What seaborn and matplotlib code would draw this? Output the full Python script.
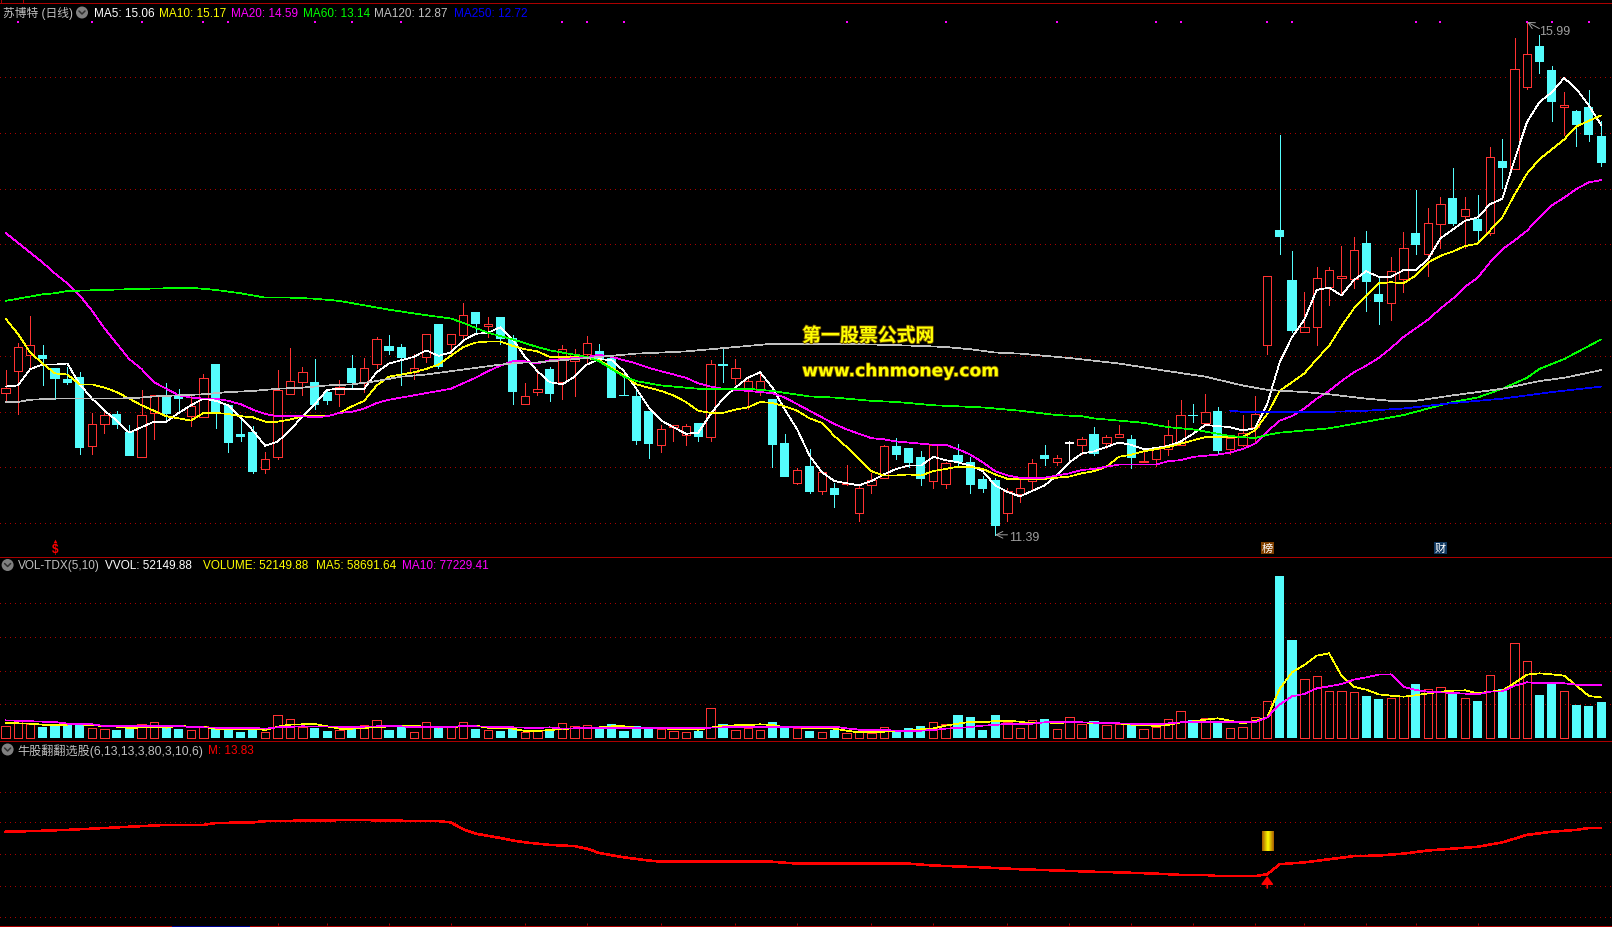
import numpy as np
import pandas as pd
import matplotlib
matplotlib.use('Agg')
import matplotlib.pyplot as plt
import matplotlib.patheffects as pe
from matplotlib.colors import LinearSegmentedColormap
from matplotlib.patches import Circle
import seaborn as sns

# ------------- DATA -------------
open_p = [12.61,12.81,12.96,12.96,12.84,12.74,12.76,12.13,12.33,12.42,
          12.26,12.03,12.43,12.58,12.58,12.40,12.39,12.88,12.50,12.24,
          12.26,11.92,12.03,12.60,12.71,12.71,12.62,12.60,12.84,12.70,
          12.88,13.04,13.03,12.80,12.94,13.24,13.06,13.14,13.35,13.22,
          13.30,13.11,12.51,12.62,12.83,12.71,12.90,12.97,12.99,12.93,
          12.59,12.58,12.45,12.14,12.30,12.23,12.34,12.21,12.87,12.75,
          12.64,12.64,12.56,12.16,11.79,11.95,11.72,11.75,11.78,11.52,
          11.77,11.84,12.13,12.11,12.03,11.81,11.78,12.05,11.98,11.83,
          11.82,11.52,11.69,11.81,12.05,11.98,12.15,12.14,12.24,12.16,
          12.21,12.19,11.98,12.01,12.10,12.14,12.41,12.34,12.45,12.10,
          12.14,12.30,13.05,14.10,13.64,13.17,13.21,13.58,13.66,13.65,
          13.98,13.51,13.43,13.65,14.07,13.88,14.15,14.39,14.22,14.20,
          14.07,14.72,14.65,15.40,15.77,15.55,15.22,15.18,15.22,14.95]
close_p = [12.66,13.03,13.05,12.92,12.74,12.70,12.11,12.33,12.41,12.32,
           12.04,12.41,12.59,12.42,12.56,12.49,12.75,12.43,12.16,12.21,
           11.89,12.01,12.64,12.72,12.80,12.50,12.54,12.67,12.70,12.84,
           13.10,12.99,12.93,12.84,13.15,12.85,13.15,13.32,13.24,13.24,
           13.10,12.62,12.58,12.65,12.60,13.01,12.97,13.07,12.91,12.57,
           12.58,12.17,12.15,12.28,12.32,12.31,12.21,12.88,12.86,12.84,
           12.72,12.72,12.14,11.85,11.91,11.71,11.89,11.68,11.79,11.75,
           11.82,12.13,12.05,11.97,11.83,12.14,11.97,11.98,11.77,11.74,
           11.40,11.72,11.75,11.97,12.01,12.02,12.15,12.19,12.06,12.21,
           12.24,12.02,11.99,12.10,12.23,12.41,12.40,12.44,12.08,12.20,
           12.25,12.42,13.68,14.03,13.18,13.21,13.66,13.73,13.68,13.91,
           13.62,13.44,13.72,13.93,13.96,14.16,14.33,14.15,14.29,14.09,
           14.76,14.66,15.56,15.70,15.63,15.26,15.23,15.05,14.96,14.71]
high_p = [12.82,13.07,13.31,13.05,12.84,12.85,12.80,12.43,12.47,12.45,
          12.32,12.64,12.59,12.70,12.65,12.59,12.78,12.88,12.51,12.40,
          12.31,12.07,12.82,13.02,12.85,12.92,12.64,12.73,12.96,12.93,
          13.12,13.14,13.06,12.97,13.15,13.24,13.15,13.43,13.35,13.30,
          13.30,13.14,12.70,12.83,12.85,13.05,13.01,13.13,13.06,12.93,
          12.78,12.66,12.45,12.32,12.32,12.33,12.34,12.91,13.02,12.92,
          12.76,12.80,12.56,12.24,11.93,12.10,11.89,11.79,11.96,11.78,
          11.88,12.14,12.20,12.11,12.08,12.15,11.98,12.15,12.03,11.86,
          11.84,11.75,11.82,12.01,12.14,12.05,12.17,12.21,12.30,12.23,
          12.32,12.23,12.08,12.11,12.37,12.55,12.51,12.60,12.48,12.20,
          12.41,12.58,13.68,14.96,13.90,13.53,13.76,13.76,13.95,14.03,
          14.09,13.67,13.85,14.08,14.46,14.30,14.40,14.66,14.40,14.41,
          14.85,14.92,15.84,15.99,15.87,15.59,15.35,15.19,15.37,15.09]
low_p = [12.53,12.42,12.83,12.68,12.56,12.69,12.06,12.06,12.25,12.29,
         12.04,12.03,12.19,12.37,12.44,12.31,12.39,12.29,12.07,12.17,
         11.88,11.88,12.01,12.60,12.59,12.47,12.51,12.49,12.67,12.62,
         12.84,12.97,12.68,12.74,12.89,12.84,12.98,13.10,13.16,13.12,
         13.06,12.51,12.51,12.59,12.54,12.56,12.58,12.88,12.90,12.57,
         12.58,12.15,12.02,12.07,12.17,12.14,12.17,12.17,12.71,12.69,
         12.47,12.59,11.94,11.85,11.78,11.70,11.69,11.57,11.77,11.45,
         11.70,11.84,12.01,11.94,11.77,11.75,11.75,11.95,11.70,11.71,
         11.32,11.45,11.62,11.74,11.96,11.96,11.99,12.06,12.05,12.11,
         12.21,11.93,11.98,11.95,12.05,12.14,12.35,12.34,12.06,12.06,
         12.13,12.16,12.97,13.88,13.17,13.17,13.05,13.41,13.50,13.57,
         13.36,13.24,13.28,13.53,13.88,13.68,13.93,14.14,13.93,13.99,
         14.05,14.48,14.65,15.38,15.53,15.09,14.96,14.86,14.91,14.68]

ma5 = [12.67,12.68,12.83,12.87,12.87,12.88,12.69,12.56,12.45,12.36,
       12.25,12.30,12.35,12.35,12.43,12.50,12.56,12.54,12.50,12.39,
       12.27,12.13,12.17,12.27,12.40,12.51,12.64,12.65,12.65,12.65,
       12.80,12.88,12.91,12.94,13.00,12.95,12.98,13.09,13.15,13.16,
       13.21,13.10,12.94,12.81,12.71,12.69,12.76,12.87,12.92,12.91,
       12.81,12.65,12.48,12.36,12.30,12.24,12.25,12.42,12.56,12.66,
       12.75,12.80,12.66,12.46,12.28,12.04,11.89,11.81,11.79,11.77,
       11.81,11.87,11.92,11.95,11.95,12.03,12.00,11.98,11.95,11.90,
       11.77,11.71,11.67,11.72,11.77,11.86,11.98,12.06,12.08,12.12,
       12.16,12.14,12.10,12.11,12.13,12.17,12.24,12.32,12.31,12.30,
       12.27,12.29,12.51,12.89,13.12,13.28,13.55,13.57,13.50,13.64,
       13.72,13.67,13.67,13.73,13.73,13.83,14.02,14.10,14.18,14.21,
       14.33,14.38,14.74,15.08,15.26,15.35,15.48,15.38,15.23,15.05]
ma10 = [13.29,13.15,12.98,12.88,12.79,12.78,12.69,12.69,12.66,12.62,
        12.56,12.50,12.45,12.40,12.38,12.36,12.43,12.43,12.42,12.40,
        12.39,12.35,12.35,12.37,12.40,12.40,12.40,12.43,12.49,12.54,
        12.68,12.76,12.78,12.80,12.83,12.87,12.95,13.03,13.07,13.08,
        13.08,13.04,13.01,12.99,12.94,12.94,12.94,12.93,12.91,12.84,
        12.77,12.69,12.66,12.63,12.59,12.53,12.45,12.43,12.43,12.46,
        12.48,12.53,12.52,12.49,12.45,12.38,12.34,12.22,12.12,12.01,
        11.90,11.86,11.86,11.87,11.86,11.90,11.92,11.94,11.94,11.92,
        11.87,11.83,11.83,11.83,11.83,11.84,11.85,11.88,11.90,11.94,
        12.03,12.05,12.08,12.10,12.12,12.15,12.18,12.21,12.21,12.21,
        12.21,12.27,12.42,12.63,12.71,12.79,12.92,13.04,13.22,13.38,
        13.50,13.61,13.62,13.61,13.68,13.80,13.86,13.90,13.95,13.97,
        14.09,14.21,14.42,14.61,14.74,14.83,14.92,15.04,15.09,15.14]
ma20 = [14.07,13.98,13.89,13.80,13.70,13.61,13.50,13.36,13.20,13.06,
        12.92,12.83,12.71,12.65,12.59,12.57,12.56,12.56,12.54,12.51,
        12.46,12.42,12.40,12.40,12.40,12.39,12.40,12.43,12.44,12.47,
        12.52,12.55,12.57,12.59,12.61,12.63,12.65,12.70,12.75,12.81,
        12.86,12.90,12.90,12.88,12.91,12.92,12.93,12.94,12.96,12.94,
        12.91,12.88,12.84,12.81,12.78,12.75,12.70,12.67,12.65,12.64,
        12.63,12.62,12.61,12.57,12.51,12.45,12.39,12.33,12.28,12.24,
        12.20,12.19,12.17,12.16,12.15,12.14,12.14,12.10,12.05,11.98,
        11.90,11.86,11.84,11.84,11.84,11.86,11.88,11.91,11.92,11.94,
        11.96,11.96,11.96,11.96,11.99,12.00,12.03,12.04,12.05,12.07,
        12.10,12.15,12.26,12.36,12.40,12.47,12.56,12.63,12.72,12.80,
        12.86,12.93,13.02,13.12,13.20,13.28,13.38,13.47,13.58,13.66,
        13.80,13.92,14.00,14.09,14.21,14.32,14.39,14.47,14.53,14.55]

ma60_idx = [0,1,2,3,4,5,8,11,15,17,19,21,23,25,27,29,31,34,36,37,39,41,43,
            44,45,47,48,50,51,53,55,56,58,60,62,65,67,70,72,75,77,79,82,85,87,
            88,90,92,94,96,98,99,101,102,103,105,107,109,111,113,115,117,119,121,123,124,126,129]
ma60 = [13.45,13.47,13.49,13.51,13.52,13.54,13.55,13.56,13.57,13.55,13.52,13.48,13.48,13.47,13.45,13.41,13.37,13.32,13.29,13.25,13.16,13.10,13.03,
        13.00,12.98,12.94,12.90,12.76,12.72,12.68,12.66,12.65,12.65,12.65,12.63,12.58,12.57,12.54,12.53,12.50,12.49,12.48,12.45,12.41,12.40,
        12.38,12.36,12.34,12.30,12.28,12.24,12.22,12.20,12.23,12.25,12.27,12.29,12.33,12.37,12.41,12.47,12.53,12.57,12.65,12.75,12.83,12.92,13.10]
ma120_idx = [0,1,2,4,6,9,11,12,14,16,18,20,22,24,26,28,30,32,34,36,38,40,42,43,
             46,48,51,53,55,58,60,62,65,68,71,74,76,78,80,82,84,86,
             90,94,97,100,102,105,107,110,112,114,117,121,124,126,129]
ma120 = [12.53,12.53,12.55,12.56,12.56,12.56,12.57,12.58,12.59,12.60,12.62,12.63,12.65,12.66,12.68,12.69,12.72,12.76,12.78,12.81,12.84,12.87,12.89,12.89,
         12.92,12.94,12.97,12.98,12.99,13.02,13.04,13.06,13.06,13.06,13.05,13.04,13.03,13.01,12.98,12.97,12.95,12.93,
         12.88,12.81,12.76,12.68,12.64,12.62,12.60,12.56,12.54,12.54,12.59,12.65,12.72,12.75,12.82]
ma250_idx = [99,100,107,110,113,117,121,125,129]
ma250 = [12.45,12.44,12.44,12.45,12.47,12.52,12.56,12.62,12.67]

volume = [16905,24633,20769,15456,18354,19803,18354,14973,13524,11109,
          14490,20769,23667,17388,12558,11109,17871,14007,13041,8211,
          13041,9177,33810,28014,15939,14007,9660,11109,15456,19320,
          26565,11109,15939,9177,23667,14007,15939,23667,12558,11109,
          9660,13041,9177,9660,10626,21252,16905,18354,13041,20286,
          10143,16905,14973,12558,9660,8211,10143,42987,19803,11109,
          14007,11109,23184,14973,14007,10143,8211,12075,6762,8211,
          6762,15456,9177,14490,16905,22701,19803,33327,30429,11592,
          33327,22701,14007,25599,27531,12558,29946,19803,24150,18354,
          19803,19320,12558,15456,27048,38640,26082,28497,24150,14007,
          15456,29946,53130,234738,142002,85008,89355,67620,67620,66171,
          60858,56511,57477,60375,78246,70518,73416,65205,57477,53613,
          90804,71001,137172,111090,62307,79695,67620,47817,46368,52150]

vol_ma5_idx = [0,1,2,3,4,5,6,7,9,10,12,13,14,15,16,17,20,21,22,23,25,26,27,28,29,30,32,33,34,35,37,38,39,41,42,43,
               44,45,46,47,48,49,50,51,53,54,55,56,57,58,59,60,61,62,63,64,65,
               66,67,68,69,70,71,72,73,74,75,76,77,78,79,80,81,82,83,84,85,86,87,
               88,89,90,91,92,93,94,95,96,97,98,99,100,101,102,103,104,105,106,107,108,109,110,111,112,113,114,115,116,117,118,119,120,121,122,123,124,125,126,127,128,129]
vol_ma5 = [22218,21252,20769,19320,19320,19320,19803,18354,16422,14490,15939,14973,17871,15939,15939,13524,13524,11592,16422,19320,20286,16905,13524,13524,14490,15939,17388,17871,15939,14973,16905,17871,14973,13524,10143,10143,
           11592,13041,14007,14490,15456,16905,16905,14973,14007,13041,12558,12075,14973,17871,18354,18837,19803,18837,15456,15456,14007,
           14007,13524,10626,8211,8694,9177,9660,10626,12558,14007,17871,20769,23667,22701,24633,25116,23667,21252,22701,21735,22701,22701,
           21735,21252,21252,19320,18837,17388,18837,22701,24150,26565,28497,25116,21252,24633,29946,71001,95151,105777,119301,122682,90321,74382,70035,63273,61341,59892,61824,64722,67137,68586,69069,64722,67137,68586,79695,91770,93702,92253,90321,75831,60858,58692]
vol_ma10_idx = [0,3,4,5,7,8,11,12,14,15,17,20,21,22,24,27,28,30,32,33,36,37,40,43,
                44,45,46,48,52,55,56,57,58,60,62,63,65,
                67,68,69,70,71,72,74,75,76,77,78,79,80,81,83,84,85,86,87,
                90,92,93,95,101,102,103,104,105,106,107,108,109,110,111,112,113,114,115,116,118,119,120,121,122,123,124,126,127,128,129]
vol_ma10 = [25599,23667,23184,20769,19803,17388,17388,17871,17388,15939,14973,14490,13524,15456,16905,16422,15939,16905,16905,15456,15939,17388,15939,14490,
            15456,13524,14007,14490,14973,14490,14007,14973,15456,15456,15456,16422,16422,
            16422,14007,12075,11109,11592,10626,10626,11592,13524,14490,15939,17871,18837,20769,20769,22701,22701,23184,22701,
            21252,20286,19803,22701,22701,29946,48300,60375,63756,71967,74865,78246,84525,87906,91770,92253,74382,69552,67137,66171,64239,63273,67137,67620,75831,80661,79212,79212,77280,76314,77229]

m_idx = [0,2,5,7,8,10,12,13,16,17,20,21,25,29,30,35,36,37,38,40,41,42,44,46,47,48,50,52,53,62,64,73,75,79,82,85,88,90,93,95,
         97,98,101,102,103,105,107,109,111,113,115,117,119,121,122,123,125,127,128,129]
m_line = [13.77,13.78,13.80,13.82,13.83,13.85,13.87,13.88,13.88,13.91,13.92,13.94,13.95,13.96,13.95,13.94,13.92,13.81,13.74,13.67,13.63,13.60,13.56,13.54,13.50,13.43,13.36,13.31,13.29,13.29,13.26,13.26,13.23,13.20,13.17,13.15,13.13,13.12,13.10,13.08,
          13.08,13.06,13.06,13.09,13.25,13.28,13.33,13.38,13.39,13.42,13.47,13.50,13.53,13.60,13.66,13.72,13.77,13.80,13.83,13.83]

dot_idx = [1,7,11,16,18,25,28,32,45,47,50,68,76,85,93,95,102,104,114,116,123,125,128]
date_ticks = [22,26,31,36,42,47,53,59,64,70,75,81,86,91,96,101,105,110,114,119]

price_grid = [15.49,14.98,14.47,13.97,13.46,12.95,12.44,11.94,11.43]
vol_grid = [49700,97500,146800,195200]
m_grid = [14.41,13.92,13.41,12.91,12.41]

sign_idx = 102
sign_top = 13.78
sign_bot = 13.46
arrow_base = 12.87
arrow_tip = 13.06

hdr_main = [(3,'苏博特 (日线)','#c0c0c0'),(93.5,'MA5: 15.06','#ffffff'),(159,'MA10: 15.17','#ffff00'),
            (231,'MA20: 14.59','#ff00ff'),(303,'MA60: 13.14','#00ff00'),(374.5,'MA120: 12.87','#c0c0c0'),(454,'MA250: 12.72','#0000ff')]
hdr_vol = [(18,'VOL-TDX(5,10)','#c0c0c0'),(105,'VVOL: 52149.88','#ffffff'),(203,'VOLUME: 52149.88','#ffff00'),
           (316,'MA5: 58691.64','#ffff00'),(401.5,'MA10: 77229.41','#ff00ff')]
hdr_m = [(17,'牛股翻翻选股(6,13,13,3,80,3,10,6)','#c0c0c0'),(208,'M: 13.83','#ff0000')]

# ------------- STYLE -------------
W, H = 1612, 928
RED = '#ff3232'
CYAN = '#54fcfc'
LINE = '#aa0000'
sns.set_theme(style='dark', rc={'figure.facecolor': 'black', 'axes.facecolor': 'black', 'savefig.facecolor': 'black'})
plt.rcParams['font.family'] = ['Liberation Sans', 'Noto Sans CJK SC', 'DejaVu Sans']

fig = plt.figure(figsize=(W / 100, H / 100), dpi=100)

def pane(y1, y2):
    return fig.add_axes([0, 1 - y2 / H, 1, (y2 - y1) / H])

ax_k = pane(4, 557)
ax_v = pane(557, 741)
ax_m = pane(741, 926)

x_lim = (-0.445, 129.87)
n = np.arange(len(open_p))
df = pd.DataFrame({'idx': n, 'open': open_p, 'close': close_p, 'high': high_p, 'low': low_p,
                   'volume': volume, 'ma5': ma5, 'ma10': ma10, 'ma20': ma20})
df['top'] = df[['open', 'close']].max(axis=1)
df['bot'] = df[['open', 'close']].min(axis=1)

def draw_line(ax, xs, ys, color, lw=0.5):
    sns.lineplot(x=xs, y=ys, color=color, linewidth=lw, ax=ax, estimator=None, sort=False, legend=False, antialiased=False, zorder=5)

def grid(ax, values):
    for v in values:
        ax.axhline(v, color=LINE, lw=0.72, ls=(0, (1, 5)), zorder=1, antialiased=False)

# ------------- PRICE PANE -------------
grid(ax_k, price_grid)
for color, part in [(RED, df[df.close > df.open]), (CYAN, df[df.close < df.open]), ('#ffffff', df[df.close == df.open])]:
    ax_k.vlines(part.idx, part.top, part.high, color=color, lw=0.72, zorder=2, antialiased=False)
    ax_k.vlines(part.idx, part.low, part.bot, color=color, lw=0.72, zorder=2, antialiased=False)
    if color == RED:
        ax_k.bar(part.idx, part.top - part.bot, bottom=part.bot, width=0.68, facecolor='black', edgecolor=RED, lw=0.72, zorder=3, antialiased=False)
    else:
        ax_k.bar(part.idx, (part.top - part.bot).clip(lower=0.012), bottom=part.bot, width=0.74, color=color, lw=0, zorder=3, antialiased=False)

draw_line(ax_k, n, ma5, '#ffffff')
draw_line(ax_k, n, ma10, '#ffff00')
draw_line(ax_k, n, ma20, '#ff00ff')
draw_line(ax_k, ma60_idx, ma60, '#00ff00')
draw_line(ax_k, ma120_idx, ma120, '#c0c0c0')
draw_line(ax_k, ma250_idx, ma250, '#0000ff')

ax_k.scatter(dot_idx, [15.99] * len(dot_idx), s=3, marker='s', color='#ff00ff', lw=0, zorder=6)

ax_k.annotate('', xy=(123, 15.99), xytext=(124.0, 15.93), arrowprops=dict(arrowstyle='->', color='#a0a0a0', lw=0.7, shrinkA=0, shrinkB=0))
ax_k.text(123.95, 15.91, '15.99', color='#a0a0a0', fontsize=8.9, va='center')
ax_k.annotate('', xy=(80, 11.32), xytext=(81.0, 11.32), arrowprops=dict(arrowstyle='->', color='#a0a0a0', lw=0.7, shrinkA=0, shrinkB=0))
ax_k.text(81.1, 11.30, '11.39', color='#a0a0a0', fontsize=8.9, va='center')

ax_k.text(4, 11.19, '$', color='#ff0000', fontsize=8.5, fontweight='bold', ha='center', va='center')
ax_k.scatter([4], [11.26], s=7, marker='^', color='#ff0000', lw=0)
ax_k.text(102, 11.20, '榜', color='#ffffff', fontsize=8, ha='center', va='center',
          bbox=dict(boxstyle='square,pad=0.08', fc='#804000', ec='none'))
ax_k.text(116, 11.20, '财', color='#ffffff', fontsize=8, ha='center', va='center',
          bbox=dict(boxstyle='square,pad=0.08', fc='#103860', ec='none'))

glow = [pe.withStroke(linewidth=1.2, foreground='#705000')]
ax_k.text(64.4, 13.13, '第一股票公式网', color='#ffff00', fontsize=13.6, fontweight='bold', family=['Noto Sans CJK SC'],
          va='center', zorder=7, path_effects=glow)
ax_k.text(64.4, 12.81, 'www.chnmoney.com', color='#ffff00', fontsize=12.35, fontweight='bold', family=['DejaVu Sans'],
          va='center', zorder=7, path_effects=glow)

ax_k.set_ylim(11.127, 16.163)

# ------------- VOLUME PANE -------------
grid(ax_v, vol_grid)
up = df[df.close >= df.open]
down = df[df.close < df.open]
sns.barplot(data=down, x='idx', y='volume', native_scale=True, width=0.74, color=CYAN, saturation=1, errorbar=None, ax=ax_v, linewidth=0, zorder=3, antialiased=False)
sns.barplot(data=up, x='idx', y='volume', native_scale=True, width=0.68, color=RED, saturation=1, errorbar=None, ax=ax_v, fill=False, linewidth=0.72, zorder=3, antialiased=False)
draw_line(ax_v, vol_ma5_idx, vol_ma5, '#ffff00')
draw_line(ax_v, vol_ma10_idx, vol_ma10, '#ff00ff')
ax_v.set_ylim(-2898, 263718)

# ------------- INDICATOR PANE -------------
grid(ax_m, m_grid)
draw_line(ax_m, m_idx, m_line, '#ff0000', lw=1.1)
cmap = LinearSegmentedColormap.from_list('gold', ['#a85c00', '#ffff00', '#a85c00'])
ax_m.imshow(np.linspace(0, 1, 32).reshape(1, -1), cmap=cmap, aspect='auto', zorder=4,
            extent=(sign_idx - 0.45, sign_idx + 0.45, sign_bot, sign_top))
ax_m.annotate('', xy=(sign_idx, arrow_tip), xytext=(sign_idx, arrow_base),
              arrowprops=dict(arrowstyle='-|>,head_width=0.3,head_length=0.4', color='#ff0000', lw=1.2, shrinkA=0, shrinkB=0))
ax_m.set_ylim(12.278, 15.238)

for ax in (ax_k, ax_v, ax_m):
    ax.set_xlim(*x_lim)
    ax.set_facecolor('black')
    ax.set_xlabel('')
    ax.set_ylabel('')
    ax.set_yticks([])
    ax.set_xticks([])
    ax.grid(False)
    for s in ax.spines.values():
        s.set_visible(False)
ax_m.set_xticks(date_ticks)
ax_m.set_xticklabels([])
ax_m.tick_params(axis='x', direction='in', length=1.5, width=0.72, color=LINE, bottom=True, pad=0)

# ------------- HEADERS AND FRAME -------------
ov = fig.add_axes([0, 0, 1, 1], zorder=10)
ov.set_xlim(0, W)
ov.set_ylim(H, 0)
ov.axis('off')
ov.patch.set_alpha(0)

for y in (3.5, 557.5, 741.5, 926.5):
    ov.plot([0, W], [y, y], color=LINE, lw=0.72, solid_capstyle='butt', antialiased=False)
ov.plot([172, 249], [927, 927], color='#000090', lw=0.72, antialiased=False)
for x in (1, 23):
    ov.plot([x, x], [0, 3], color=LINE, lw=0.72, antialiased=False)

def icon(x, y):
    ov.add_patch(Circle((x, y), 6, fc='#808080', ec='none'))
    ov.plot([x - 3, x, x + 3], [y - 1.5, y + 1.5, y - 1.5], color='#303030', lw=1.1)

def header(items, y, size=8.45):
    for x, txt, col in items:
        ov.text(x, y, txt, color=col, fontsize=size, va='center', ha='left')

header(hdr_main, 14)
header(hdr_vol, 566.5)
header(hdr_m[:1], 751, size=8.72)
header(hdr_m[1:], 751)
icon(82, 13.5)
icon(7.6, 566)
icon(7.6, 750.5)

fig.savefig('out.png', dpi=100, facecolor='black')
